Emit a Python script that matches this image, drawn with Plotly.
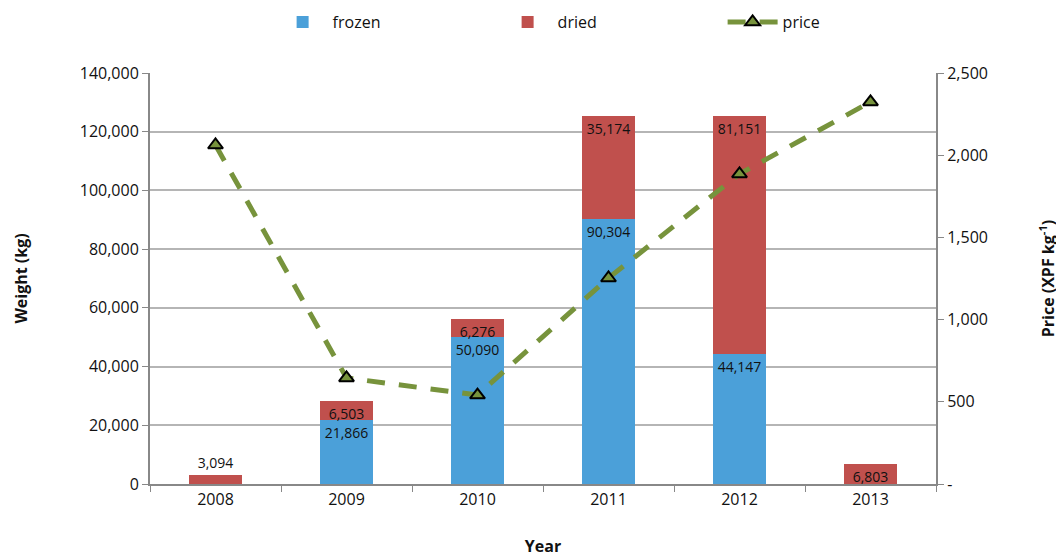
import plotly.graph_objects as go

years = ["2008", "2009", "2010", "2011", "2012", "2013"]
frozen = [None, 21866, 50090, 90304, 44147, None]
dried = [3094, 6503, 6276, 35174, 81151, 6803]
price = [2062, 645, 541, 1253, 1886, 2324]

left_ticks = [0, 20000, 40000, 60000, 80000, 100000, 120000, 140000]
right_tickvals = [0, 500, 1000, 1500, 2000, 2500]
right_ticktext = ["-", "500", "1,000", "1,500", "2,000", "2,500"]

FONT = "Open Sans"
BLUE = "#4BA0D9"
RED = "#C0504D"
GREEN = "#77933C"
TXT = "#111111"

fz_x = [y for y, v in zip(years, frozen) if v is not None]
fz_y = [v for v in frozen if v is not None]

dried_pos = ["outside" if v < 5000 else "inside" for v in dried]

fig = go.Figure()
fig.add_trace(go.Bar(
    x=fz_x, y=fz_y, name="frozen", marker=dict(color=BLUE, line=dict(width=0)),
    text=[f"{v:,}" for v in fz_y], textposition="inside", insidetextanchor="end",
    textfont=dict(family=FONT, size=14, color=TXT), constraintext="none",
))
fig.add_trace(go.Bar(
    x=years, y=dried, name="dried", marker=dict(color=RED, line=dict(width=0)),
    text=[f"{v:,}" for v in dried], textposition=dried_pos, insidetextanchor="end",
    textfont=dict(family=FONT, size=14, color=TXT), constraintext="none",
    cliponaxis=False,
))
fig.add_trace(go.Scatter(
    x=years, y=price, name="price", yaxis="y2", mode="lines+markers",
    line=dict(color=GREEN, width=5, dash="18px,14px"),
    marker=dict(symbol="triangle-up", size=13, color=GREEN,
                line=dict(color="black", width=2)),
))

fig.update_layout(
    width=1064, height=559,
    paper_bgcolor="white", plot_bgcolor="white",
    barmode="stack", bargap=0.59,
    margin=dict(l=142, r=136, t=65, b=83),
    font=dict(family=FONT, size=16, color=TXT),
    showlegend=True,
    legend=dict(orientation="h", x=0.156, xanchor="left",
                yref="container", y=0.975, yanchor="middle",
                font=dict(family=FONT, size=16, color=TXT),
                entrywidth=160, entrywidthmode="pixels", traceorder="normal",
                itemwidth=50),
    xaxis=dict(
        type="category", categoryorder="array", categoryarray=years,
        tickson="boundaries", ticks="outside", ticklen=6,
        tickcolor="#888", showline=True, linecolor="#888", linewidth=2,
        showgrid=False, tickfont=dict(family=FONT, size=16, color=TXT),
        title=dict(text="<b>Year</b>", font=dict(family=FONT, size=16, color=TXT),
                   standoff=32),
    ),
    yaxis=dict(
        range=[0, 140000], tickvals=left_ticks, tickformat=",",
        ticks="outside", ticklen=6, tickcolor="#888",
        showline=True, linecolor="#888", linewidth=2,
        showgrid=True, gridcolor="#b5b5b5", gridwidth=1.5, zeroline=False,
        tickfont=dict(family=FONT, size=16, color=TXT),
        title=dict(text="<b>Weight (kg)</b>", font=dict(family=FONT, size=16, color=TXT),
                   standoff=48),
    ),
    yaxis2=dict(
        range=[0, 2500], overlaying="y", side="right",
        tickvals=right_tickvals, ticktext=right_ticktext,
        ticks="outside", ticklen=6, tickcolor="#888",
        showline=True, linecolor="#888", linewidth=2,
        showgrid=False, zeroline=False,
        tickfont=dict(family=FONT, size=16, color=TXT),
        title=dict(text="<b>Price (XPF kg<sup>-1</sup>)</b>",
                   font=dict(family=FONT, size=16, color=TXT), standoff=56),
    ),
)

fig.write_html("out.html")
